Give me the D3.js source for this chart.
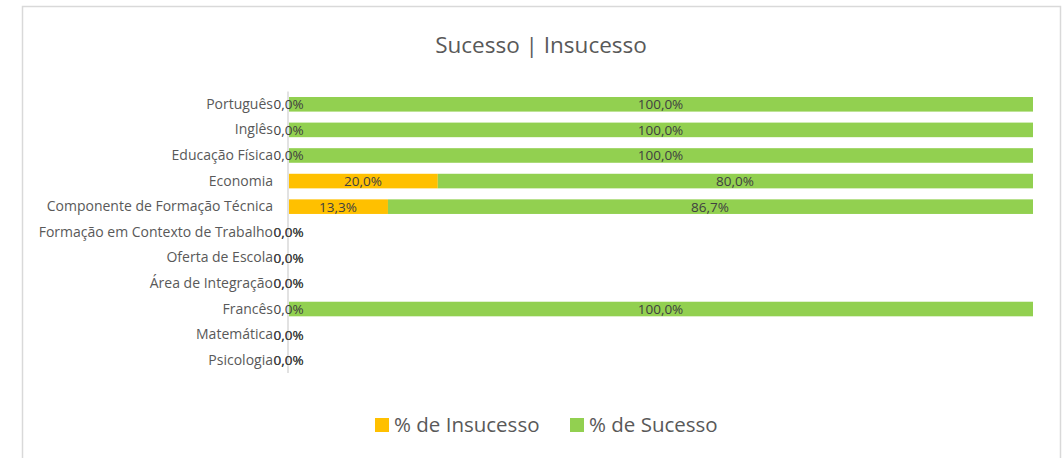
<!DOCTYPE html>
<html>
<head>
<meta charset="utf-8">
<script src="https://cdn.jsdelivr.net/npm/d3@7"></script>
<style>
  body { margin: 0; background: #fff; }
  text { font-family: "Open Sans", "Noto Sans", sans-serif; }
</style>
</head>
<body>
<script>
'use strict';

const categories = ['Português', 'Inglês', 'Educação Física', 'Economia',
  'Componente de Formação Técnica', 'Formação em Contexto de Trabalho',
  'Oferta de Escola', 'Área de Integração', 'Francês', 'Matemática', 'Psicologia'];
const insucesso = [0, 0, 0, 20, 13.3, 0, 0, 0, 0, 0, 0];
const sucesso = [100, 100, 100, 80, 86.7, 0, 0, 0, 100, 0, 0];
const seriesNames = ['% de Insucesso', '% de Sucesso'];
const seriesColors = ['#FFC000', '#92D050'];

const width = 1063, height = 458;
const svg = d3.select('body').append('svg')
  .attr('width', width)
  .attr('height', height);

// chart area border
svg.append('rect')
  .attr('x', 22.5).attr('y', 6.5)
  .attr('width', 1038).attr('height', 470)
  .attr('fill', '#fff')
  .attr('stroke', '#d9d9d9')
  .attr('stroke-width', 1.5);

svg.append('text')
  .attr('x', 541).attr('y', 53)
  .attr('text-anchor', 'middle')
  .style('font-size', '22.5px')
  .attr('fill', '#595959')
  .text('Sucesso | Insucesso');

const x = d3.scaleLinear().domain([0, 100]).range([289, 1033]);
const y = d3.scaleBand().domain(categories).range([91.5, 373]).paddingInner(0.43).paddingOuter(0.215);

const fmt = v => d3.format('.1f')(v).replace('.', ',') + '%';

const rows = categories.map((c, i) => ({ cat: c, ins: insucesso[i], suc: sucesso[i] }));

// bars
rows.forEach(r => {
  svg.append('rect')
    .attr('x', x(0)).attr('y', y(r.cat))
    .attr('width', x(r.ins) - x(0)).attr('height', y.bandwidth())
    .attr('fill', seriesColors[0]);
  svg.append('rect')
    .attr('x', x(r.ins)).attr('y', y(r.cat))
    .attr('width', x(r.ins + r.suc) - x(r.ins)).attr('height', y.bandwidth())
    .attr('fill', seriesColors[1]);
});

// axis line
svg.append('line')
  .attr('x1', 288).attr('x2', 288)
  .attr('y1', y.range()[0]).attr('y2', y.range()[1])
  .attr('stroke', '#d9d9d9').attr('stroke-width', 1.5);

// category labels
const yAxis = d3.axisLeft(y).tickSize(0).tickPadding(0);
const gy = svg.append('g')
  .attr('transform', 'translate(273,0)')
  .call(yAxis);
gy.select('.domain').remove();
gy.selectAll('text')
  .style('font-size', '14px')
  .style('font-family', '"Open Sans", "Noto Sans", sans-serif')
  .attr('fill', '#595959');

// data labels
rows.forEach(r => {
  const cy = y(r.cat) + y.bandwidth() / 2 + 5;
  svg.append('text')
    .attr('x', (x(0) + x(r.ins)) / 2 - 0.5).attr('y', cy)
    .attr('text-anchor', 'middle')
    .style('font-size', '13.5px')
    .attr('fill', '#404040')
    .text(fmt(r.ins));
  svg.append('text')
    .attr('x', (x(r.ins) + x(r.ins + r.suc)) / 2 - 0.5).attr('y', cy)
    .attr('text-anchor', 'middle')
    .style('font-size', '13.5px')
    .attr('fill', '#404040')
    .text(fmt(r.suc));
});

// legend
const legendX = [375, 570];
seriesNames.forEach((name, i) => {
  svg.append('rect')
    .attr('x', legendX[i]).attr('y', 418)
    .attr('width', 14).attr('height', 14)
    .attr('fill', seriesColors[i]);
  svg.append('text')
    .attr('x', legendX[i] + 19).attr('y', 432)
    .style('font-size', '20.5px')
    .attr('fill', '#595959')
    .text(name);
});
</script>
</body>
</html>
